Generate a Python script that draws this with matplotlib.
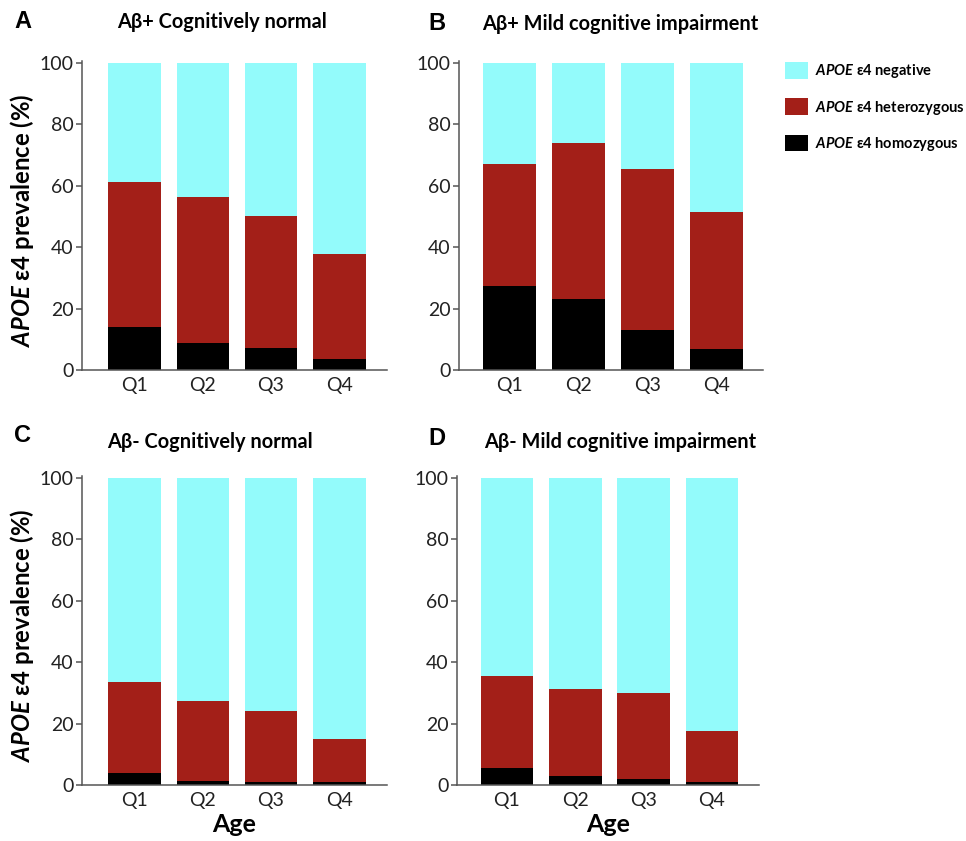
import matplotlib
matplotlib.use("Agg")
import matplotlib.pyplot as plt
from matplotlib.patches import Patch
import numpy as np

# ---------------- data ----------------
categories = ["Q1", "Q2", "Q3", "Q4"]
panel_letters = ["A", "B", "C", "D"]
panel_titles = ["Aβ+ Cognitively normal", "Aβ+ Mild cognitive impairment",
                "Aβ- Cognitively normal", "Aβ- Mild cognitive impairment"]
# cumulative tops (%)
homozygous_A = [13.9, 8.7, 7.0, 3.6]
hetero_top_A = [61.2, 56.2, 50.0, 37.9]
homozygous_B = [27.5, 23.2, 12.9, 6.7]
hetero_top_B = [67.1, 73.8, 65.3, 51.5]
homozygous_C = [3.8, 1.3, 1.1, 1.0]
hetero_top_C = [33.4, 27.3, 24.0, 15.0]
homozygous_D = [5.6, 3.0, 2.0, 1.1]
hetero_top_D = [35.6, 31.1, 30.1, 17.6]
yticks = [0, 20, 40, 60, 80, 100]
legend_labels = ["negative", "heterozygous", "homozygous"]

homo = [homozygous_A, homozygous_B, homozygous_C, homozygous_D]
htop = [hetero_top_A, hetero_top_B, hetero_top_C, hetero_top_D]

# ---------------- style ----------------
plt.rcParams['font.family'] = ['Lato', 'DejaVu Sans']
plt.rcParams['mathtext.fontset'] = 'custom'
plt.rcParams['mathtext.rm'] = 'Lato'
plt.rcParams['mathtext.it'] = 'Lato:italic'
plt.rcParams['mathtext.bf'] = 'Lato:bold'
try:
    plt.rcParams['mathtext.bfit'] = 'Lato:italic:bold'
    APOE = r"$\mathbfit{APOE}$"
except KeyError:
    APOE = r"$\mathit{APOE}$"

C_NEG = "#93FBFB"
C_HET = "#A31F18"
C_HOM = "#000000"
SPINE = "#555555"

W, H = 966, 841
fig = plt.figure(figsize=(W / 100, H / 100), dpi=100)

def fx(px):
    return px / W

def fy(py):
    return 1 - py / H

# axes rectangles in pixel coords: (left, right, top, bottom)
rects = [(82, 387, 61, 370), (459, 763, 61, 370),
         (82, 387, 476, 785), (457, 759, 476, 785)]
xlims = [(-0.77, 3.70), (-0.74, 3.68), (-0.77, 3.70), (-0.73, 3.69)]
title_x = [117, 482, 107, 484]
title_y = [22, 24, 442, 442]
letter_xy = [(14, 22), (428, 23), (14, 436), (428, 438)]

x = np.arange(len(categories))
for i in range(4):
    l, r, t, b = rects[i]
    ax = fig.add_axes([fx(l), fy(b), fx(r) - fx(l), (b - t) / H])
    hm = np.array(homo[i])
    ht = np.array(htop[i])
    wdt = 0.77
    ax.bar(x, hm, width=wdt, color=C_HOM, linewidth=0)
    ax.bar(x, ht - hm, bottom=hm, width=wdt, color=C_HET, linewidth=0)
    ax.bar(x, 100 - ht, bottom=ht, width=wdt, color=C_NEG, linewidth=0)
    ax.set_xlim(*xlims[i])
    ax.set_ylim(0, 100.6)
    ax.set_xticks(x)
    ax.set_xticklabels(categories, fontsize=14, color="#222222")
    ax.set_yticks(yticks)
    ax.set_yticklabels([str(v) for v in yticks], fontsize=14, color="#222222")
    ax.tick_params(axis='x', length=0, pad=5)
    ax.tick_params(axis='y', length=4, width=1.1, color=SPINE, pad=2)
    for s in ("top", "right"):
        ax.spines[s].set_visible(False)
    for s in ("left", "bottom"):
        ax.spines[s].set_color(SPINE)
        ax.spines[s].set_linewidth(1.1)
    if i in (0, 2):
        ax.set_ylabel(APOE + " ε4 prevalence (%)", fontsize=17.2,
                      fontweight='bold', labelpad=3)
        ax.yaxis.label.set_y(0.485)
    if i in (2, 3):
        ax.set_xlabel("Age", fontsize=18, fontweight='bold', labelpad=3)
    fig.text(fx(title_x[i]), fy(title_y[i]), panel_titles[i], fontsize=14.4,
             fontweight='bold', ha='left', va='center')
    fig.text(fx(letter_xy[i][0]), fy(letter_xy[i][1]), panel_letters[i],
             fontsize=17, fontweight='bold', ha='left', va='center',
             family=['Liberation Sans', 'DejaVu Sans'])

handles = [Patch(facecolor=C_NEG, edgecolor='none'),
           Patch(facecolor=C_HET, edgecolor='none'),
           Patch(facecolor=C_HOM, edgecolor='none')]
labels = [APOE + " ε4 " + s for s in legend_labels]
fig.legend(handles, labels, loc='upper left',
           bbox_to_anchor=(fx(785), fy(62)), frameon=False,
           prop={'weight': 'bold', 'size': 10.5},
           handlelength=1.58, handleheight=1.37, handletextpad=0.48,
           labelspacing=1.25, borderpad=0, borderaxespad=0)

fig.savefig("out.png", dpi=100)
